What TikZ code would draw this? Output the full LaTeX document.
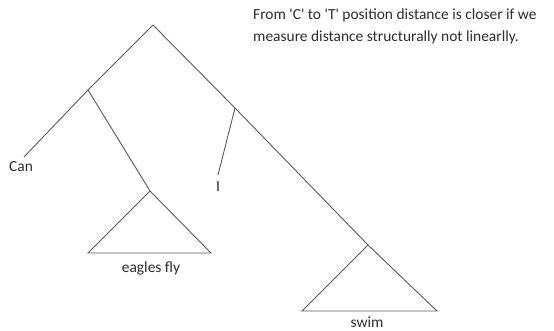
\documentclass[tikz,border=0pt]{standalone}
\usepackage{fontspec}
\setmainfont{Carlito}[Ligatures=TeXOff]
\definecolor{linegray}{HTML}{5A5A5A}
\definecolor{textgray}{HTML}{2E2E2E}
\begin{document}
\begin{tikzpicture}[x=1bp,y=-1bp,
  branch/.style={draw=linegray,line width=0.9bp},
  lbl/.style={text=textgray,inner sep=0pt,font=\fontsize{15.5}{18}\selectfont},
  note/.style={text=textgray,inner sep=0pt,align=left,font=\fontsize{15.5}{22}\selectfont}]
\useasboundingbox (0,0) rectangle (554,330);
% branching points
\coordinate (root) at (153,25);
\coordinate (L) at (88,90);
\coordinate (canend) at (24,157);
\coordinate (eap) at (150,191);
\coordinate (eal) at (88,253);
\coordinate (ear) at (211,253);
\coordinate (M) at (235,108);
\coordinate (iend) at (218,175);
\coordinate (swap) at (368,245);
\coordinate (swl) at (302,311);
\coordinate (swr) at (437,311);
% labels
\node[lbl] (can) at (21,167) {Can};
\node[lbl] (eagles) at (151,268) {eagles fly};
\node[lbl] (ilbl) at (218,187) {I};
\node[lbl] (swim) at (367,322) {swim};
\node[note,anchor=north west] (txt) at (253,9) {From 'C' to 'T' position distance is closer if we\\measure distance structurally not linearlly.};
% tree
\draw[branch] (root) -- (L) -- (canend);
\draw[branch] (L) -- (eap);
\draw[branch] (eap) -- (eal) -- (ear) -- cycle;
\draw[branch] (root) -- (M) -- (swap);
\draw[branch] (M) -- (iend);
\draw[branch] (swap) -- (swl) -- (swr) -- cycle;
\end{tikzpicture}
\end{document}
